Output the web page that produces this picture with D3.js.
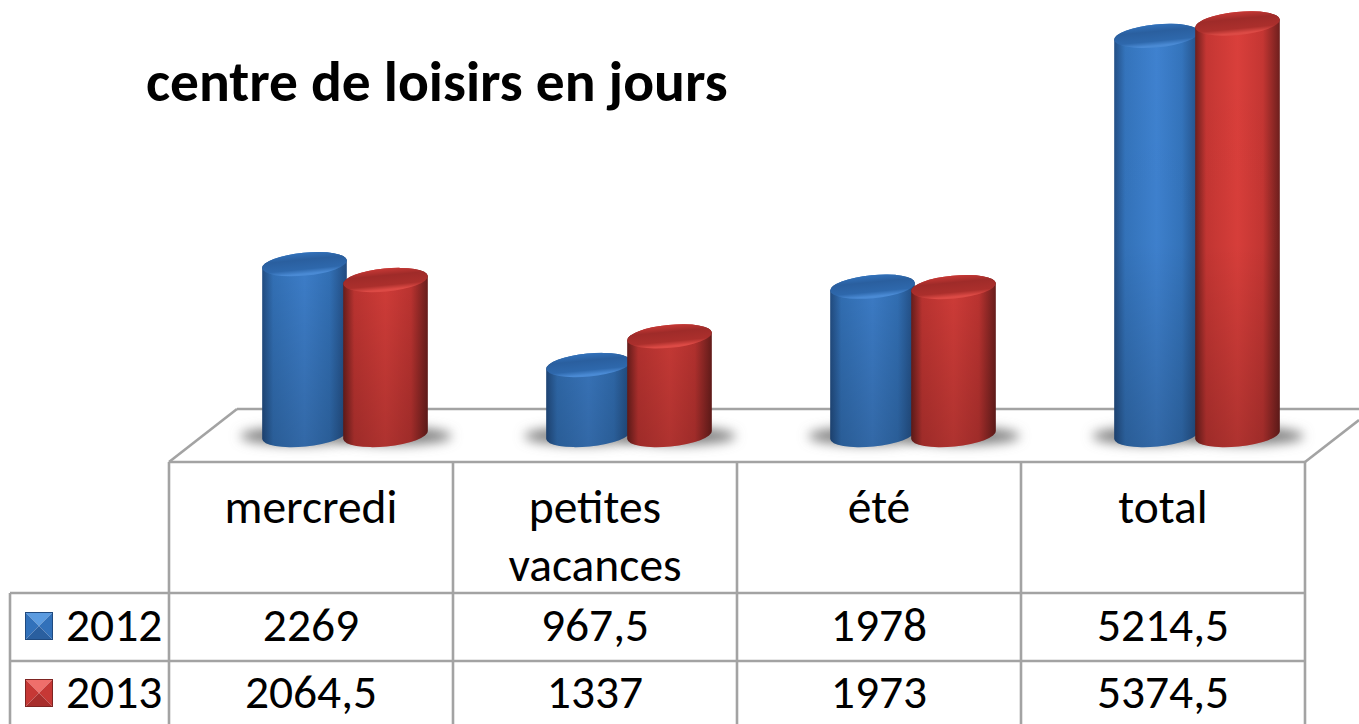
<!DOCTYPE html>
<html><head><meta charset="utf-8">
<script src="https://cdn.jsdelivr.net/npm/d3@7"></script>
<style>html,body{margin:0;padding:0;background:#fff;overflow:hidden}svg{display:block}text{font-family:Carlito,Lato,"Open Sans",sans-serif;fill:#000}</style>
</head><body><svg id="c" width="1359" height="724"></svg>
<script>
const categories = ["mercredi", "petites vacances", "été", "total"];
const categoryLines = [["mercredi"], ["petites", "vacances"], ["été"], ["total"]];
const seriesNames = ["2012", "2013"];
const values2012 = [2269, 967.5, 1978, 5214.5];
const values2013 = [2064.5, 1337, 1973, 5374.5];
const titleText = "centre de loisirs en jours";

const svg = d3.select("#c");
const defs = svg.append("defs");
const W = 1359, H = 724;
const tableLeft = 169, tableRight = 1305, legendLeft = 10;
const floorFront = 462, floorBack = 409, depthX = 68;
const rowHead = 593, row1 = 661;

const x = d3.scaleBand().domain(categories).range([tableLeft, tableRight]);
const xs = d3.scaleBand().domain(seriesNames).range([-81, 81]);
const y = d3.scaleLinear().domain([0, 5374.5]).range([440, 23.5]);
const baseY = y(0) - 5;
const fmt = v => String(v).replace(".", ",");

const pal = {
  "2012": {edge:"#234f86", mid:"#3f82d0", mid2:"#3474bc", top:"#2e68ac", topD:"#2a5f9f", rim:"#4a8ad4", light:"#5b9be0", dark:"#2a5f9f", base:"#3271ba", line:"#1f4a80"},
  "2013": {edge:"#6e1f1d", mid:"#da3f3b", mid2:"#c53633", top:"#ab2f2c", topD:"#9f2b29", rim:"#dc4a45", light:"#ef6f6b", dark:"#a82e2c", base:"#c63835", line:"#7d2422"}
};
seriesNames.forEach(s => {
  const p = pal[s];
  const g = defs.append("linearGradient").attr("id","body"+s).attr("x1",0).attr("x2",1).attr("y1",0).attr("y2",0);
  [[0,p.edge],[.13,p.mid2],[.5,p.mid],[.8,p.mid2],[1,p.edge]].forEach(d=>g.append("stop").attr("offset",d[0]).attr("stop-color",d[1]));
  const t = defs.append("linearGradient").attr("id","top"+s).attr("x1",0).attr("x2",0).attr("y1",0).attr("y2",1);
  [[0,p.base],[.3,p.topD],[.72,p.top],[.92,p.rim],[1,p.rim]].forEach(d=>t.append("stop").attr("offset",d[0]).attr("stop-color",d[1]));
});
const shade = defs.append("linearGradient").attr("id","shade").attr("gradientUnits","userSpaceOnUse").attr("x1",0).attr("x2",0).attr("y1",0).attr("y2",446);
[[0,0],[.55,.02],[1,.2]].forEach(d=>shade.append("stop").attr("offset",d[0]).attr("stop-color","#000").attr("stop-opacity",d[1]));
defs.append("filter").attr("id","blur").attr("x","-40%").attr("width","180%").attr("y","-100%").attr("height","300%")
  .append("feGaussianBlur").attr("stdDeviation",6);

const line = (x1,y1,x2,y2,w=2.6) => svg.append("line").attr("x1",x1).attr("y1",y1).attr("x2",x2).attr("y2",y2)
  .attr("stroke","#a3a3a3").attr("stroke-width",w);

// floor
line(tableLeft+depthX, floorBack, W, floorBack);
line(tableLeft, floorFront, tableLeft+depthX, floorBack);
line(tableRight, floorFront, W, floorFront-42);
line(tableLeft, floorFront, tableRight, floorFront);

// table
[...x.domain().map(c=>x(c)), tableRight].forEach(v=>line(v, floorFront, v, H));
line(legendLeft, rowHead, tableRight, rowHead);
line(legendLeft, row1, tableRight, row1);
line(legendLeft, rowHead, legendLeft, H);

// cylinders
const rx = 42.5, ry = 11.5, rot = -5.5;
const dx = rx*Math.cos(rot*Math.PI/180), dy = rx*Math.sin(rot*Math.PI/180);
const series = [{k:"2012",v:values2012},{k:"2013",v:values2013}];
const pairOffset = 34;
const cxOf = (s,c) => x(c) + x.bandwidth()/2 + pairOffset + xs(s) + xs.bandwidth()/2;

categories.forEach(c=>{
  series.forEach((s,si)=>{
    svg.append("ellipse").attr("class","shadow")
      .attr("cx", cxOf(s.k,c)+(si?8:-6)).attr("cy",436).attr("rx",58).attr("ry",9)
      .attr("fill","#808080").attr("filter","url(#blur)");
  });
});
series.forEach(s=>{
  const g = svg.append("g").attr("class","s"+s.k);
  categories.forEach((c,i)=>{
    const cx = cxOf(s.k,c), yt = y(s.v[i]), yb = baseY;
    const d = `M${cx-dx},${yt-dy}L${cx-dx},${yb-dy}A${rx},${ry} ${rot} 0 0 ${cx+dx},${yb+dy}L${cx+dx},${yt+dy}A${rx},${ry} ${rot} 0 0 ${cx-dx},${yt-dy}Z`;
    g.append("path").attr("d",d).attr("fill",`url(#body${s.k})`);
    g.append("path").attr("d",d).attr("fill","url(#shade)");
    g.append("ellipse").attr("cx",cx).attr("cy",yt).attr("rx",rx).attr("ry",ry)
      .attr("transform",`rotate(${rot} ${cx} ${yt})`).attr("fill",`url(#top${s.k})`);
  });
});

// text
const fs = 47.5;
svg.append("text").attr("x",146).attr("y",101).attr("font-size",57.5).attr("font-weight",700).text(titleText);
categories.forEach((c,i)=>{
  const cx = x(c)+x.bandwidth()/2;
  categoryLines[i].forEach((l,j)=>svg.append("text").attr("x",cx).attr("y",523+j*58).attr("font-size",fs).attr("text-anchor","middle").text(l));
  svg.append("text").attr("x",cx).attr("y",641).attr("font-size",fs).attr("text-anchor","middle").text(fmt(values2012[i]));
  svg.append("text").attr("x",cx).attr("y",708).attr("font-size",fs).attr("text-anchor","middle").text(fmt(values2013[i]));
});

// legend
seriesNames.forEach((s,i)=>{
  const p = pal[s], sx = 25, sy = 612+i*67, sz = 28;
  const g = svg.append("g");
  const c = sx+sz/2, m = sy+sz/2;
  const tri = (pts,f)=>g.append("polygon").attr("points",pts.map(q=>q.join(",")).join(" ")).attr("fill",f);
  tri([[sx,sy],[sx+sz,sy],[c,m]],p.light);
  tri([[sx,sy],[c,m],[sx,sy+sz]],p.base);
  tri([[sx+sz,sy],[sx+sz,sy+sz],[c,m]],p.base);
  tri([[sx,sy+sz],[sx+sz,sy+sz],[c,m]],p.dark);
  g.append("rect").attr("x",sx+.5).attr("y",sy+.5).attr("width",sz-1).attr("height",sz-1).attr("fill","none").attr("stroke",p.line).attr("stroke-width",1);
  svg.append("text").attr("x",66).attr("y",641+i*67).attr("font-size",fs).text(s);
});
</script></body></html>
